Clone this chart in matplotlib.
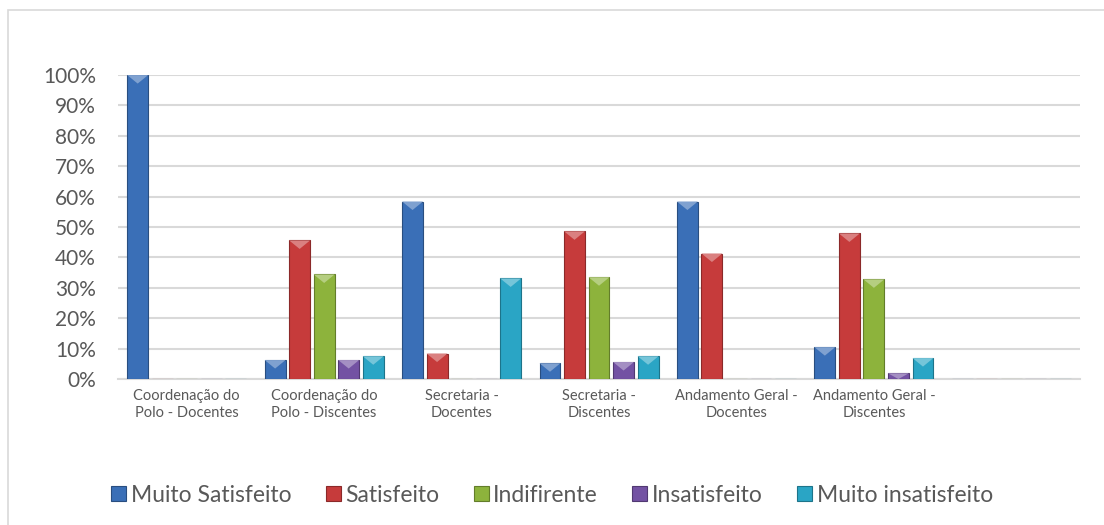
import matplotlib
matplotlib.use("Agg")
import matplotlib.pyplot as plt
from matplotlib.patches import Rectangle, Polygon
from matplotlib.ticker import PercentFormatter
from matplotlib.colors import to_rgb

plt.rcParams["font.family"] = ["Lato", "DejaVu Sans"]

# Categories (7th slot is empty in the original chart)
categories = [
    "Coordenação do\nPolo - Docentes",
    "Coordenação do\nPolo - Discentes",
    "Secretaria -\nDocentes",
    "Secretaria -\nDiscentes",
    "Andamento Geral -\nDocentes",
    "Andamento Geral -\nDiscentes",
    "",
]
series_names = ["Muito Satisfeito", "Satisfeito", "Indifirente", "Insatisfeito", "Muito insatisfeito"]

muito_satisfeito = [1.000, 0.0625, 0.584, 0.052, 0.584, 0.105, 0.0]
satisfeito = [0.0, 0.456, 0.084, 0.486, 0.413, 0.479, 0.0]
indiferente = [0.0, 0.344, 0.0, 0.335, 0.0, 0.328, 0.0]
insatisfeito = [0.0, 0.0625, 0.0, 0.056, 0.0, 0.019, 0.0]
muito_insatisfeito = [0.0, 0.075, 0.331, 0.075, 0.0, 0.069, 0.0]

series_values = [muito_satisfeito, satisfeito, indiferente, insatisfeito, muito_insatisfeito]
colors = ["#3A6FB7", "#C63B3B", "#8DB33C", "#7352A3", "#2AA5C5"]


def lighten(c, f):
    r, g, b = to_rgb(c)
    return (r + (1 - r) * f, g + (1 - g) * f, b + (1 - b) * f)


def darken(c, f):
    r, g, b = to_rgb(c)
    return (r * (1 - f), g * (1 - f), b * (1 - f))


fig = plt.figure(figsize=(11.04, 5.25), dpi=100)
ax = fig.add_axes([0.1069, 0.278, 0.8714, 0.579])

# outer chart frame (right/bottom edges fall outside the image)
fig.patches.append(Rectangle((8 / 1104, -0.1), 1.2, 1 - 10 / 525 + 0.1,
                             transform=fig.transFigure, fill=False,
                             edgecolor="#D9D9D9", linewidth=1.2))

x = list(range(len(categories)))
pitch = 0.1785
width = 0.152
handles = []
for i, (name, vals, col) in enumerate(zip(series_names, series_values, colors)):
    pos = [xi + (i - 2) * pitch for xi in x]
    bars = ax.bar(pos, vals, width=width, color=col, edgecolor=darken(col, 0.3),
                  linewidth=0.8, label=name, zorder=3)
    handles.append(bars)
    # bevel highlight on top of each bar
    for b in bars:
        h = b.get_height()
        if h <= 0:
            continue
        x0 = b.get_x()
        w = b.get_width()
        depth = min(0.028, h)
        tri = Polygon([(x0, h), (x0 + w, h), (x0 + w / 2, h - depth)],
                      closed=True, facecolor=lighten(col, 0.35), edgecolor="none", zorder=4)
        ax.add_patch(tri)

ax.set_xlim(-0.5, 6.5)
ax.set_ylim(0, 1.0)
ax.set_yticks([i / 10 for i in range(11)])
ax.yaxis.set_major_formatter(PercentFormatter(1.0, decimals=0))
ax.set_xticks(x)
ax.set_xticklabels(categories, fontsize=10.5, color="#595959", linespacing=1.3)
ax.tick_params(axis="y", labelsize=15, colors="#595959", length=0, pad=16)
ax.tick_params(axis="x", length=0, pad=7)

ax.grid(True, axis="y", color="#D9D9D9", linewidth=1.5, zorder=0)
for s in ["top", "right", "left"]:
    ax.spines[s].set_visible(False)
ax.spines["bottom"].set_color("#D9D9D9")
ax.spines["bottom"].set_linewidth(1.5)

fig.legend(handles=handles, labels=series_names, loc="center", ncol=5,
           bbox_to_anchor=(0.5, 0.057), frameon=False, fontsize=16.5,
           handlelength=0.65, handleheight=0.65, handletextpad=0.2,
           columnspacing=1.5, labelcolor="#595959")

fig.savefig("out.png", dpi=100)
